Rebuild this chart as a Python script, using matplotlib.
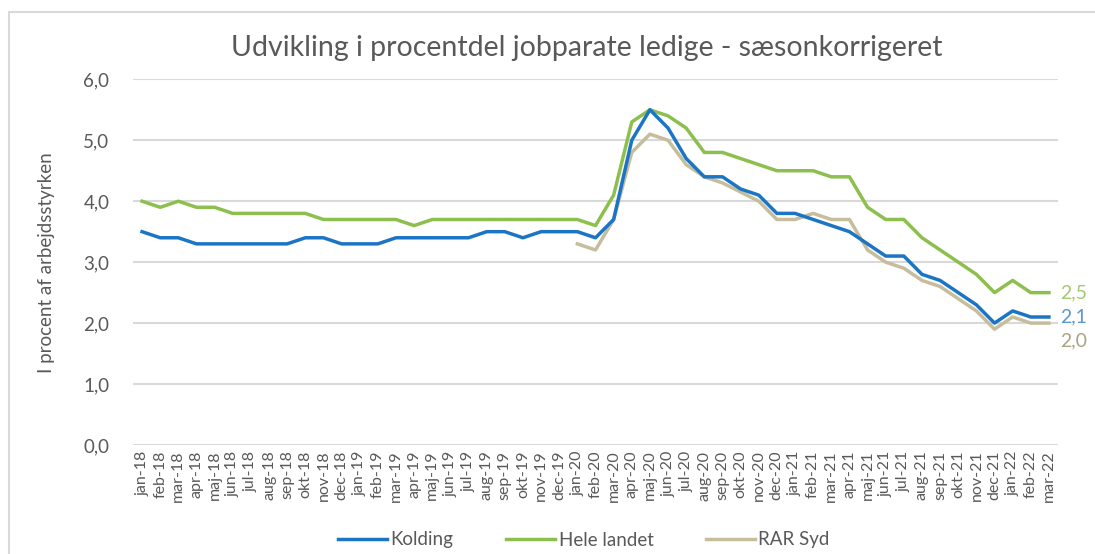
import matplotlib.pyplot as plt
from matplotlib.patches import Rectangle

plt.rcParams['font.family'] = ['Lato', 'DejaVu Sans']

months = ["jan", "feb", "mar", "apr", "maj", "jun", "jul", "aug", "sep", "okt", "nov", "dec"]
labels = [f"{m}-{y}" for y in ["18", "19", "20", "21", "22"] for m in months][:51]

kolding = [3.5, 3.4, 3.4, 3.3, 3.3, 3.3, 3.3, 3.3, 3.3, 3.4, 3.4, 3.3,
           3.3, 3.3, 3.4, 3.4, 3.4, 3.4, 3.4, 3.5, 3.5, 3.4, 3.5, 3.5,
           3.5, 3.4, 3.7, 5.0, 5.5, 5.2, 4.7, 4.4, 4.4, 4.2, 4.1, 3.8,
           3.8, 3.7, 3.6, 3.5, 3.3, 3.1, 3.1, 2.8, 2.7, 2.5, 2.3, 2.0,
           2.2, 2.1, 2.1]
hele_landet = [4.0, 3.9, 4.0, 3.9, 3.9, 3.8, 3.8, 3.8, 3.8, 3.8, 3.7, 3.7,
               3.7, 3.7, 3.7, 3.6, 3.7, 3.7, 3.7, 3.7, 3.7, 3.7, 3.7, 3.7,
               3.7, 3.6, 4.1, 5.3, 5.5, 5.4, 5.2, 4.8, 4.8, 4.7, 4.6, 4.5,
               4.5, 4.5, 4.4, 4.4, 3.9, 3.7, 3.7, 3.4, 3.2, 3.0, 2.8, 2.5,
               2.7, 2.5, 2.5]
# RAR Syd starts jan-20
rar_syd = [None] * 24 + [3.3, 3.2, 3.7, 4.8, 5.1, 5.0, 4.6, 4.4, 4.3, 4.15, 4.0, 3.7,
                         3.7, 3.8, 3.7, 3.7, 3.2, 3.0, 2.9, 2.7, 2.6, 2.4, 2.2, 1.9,
                         2.1, 2.0, 2.0]

blue = "#1b75c4"
green = "#8dbf4f"
tan = "#c6bd9c"

fig = plt.figure(figsize=(10.95, 5.54), dpi=100)
fig.patches.append(Rectangle((9 / 1095, -0.1), 1.2, (554 - 12) / 554 + 0.1,
                             transform=fig.transFigure, fill=False,
                             edgecolor="#d9d9d9", linewidth=1.5))
ax = fig.add_axes([133 / 1095, 109 / 554, 925 / 1095, 365.7 / 554])

x = list(range(len(labels)))
rx = [i for i, v in enumerate(rar_syd) if v is not None]
ry = [v for v in rar_syd if v is not None]

ax.plot(x, hele_landet, color=green, linewidth=2.5, label="Hele landet", zorder=3)
ax.plot(rx, ry, color=tan, linewidth=2.5, label="RAR Syd", zorder=3)
ax.plot(x, kolding, color=blue, linewidth=2.5, label="Kolding", zorder=4)

ax.set_xlim(-0.5, len(labels) - 0.5)
ax.set_ylim(0, 6)
ax.set_yticks([0, 1, 2, 3, 4, 5, 6])
ax.set_yticklabels([f"{v:.1f}".replace(".", ",") for v in range(7)], fontsize=13.5, color="#595959")
ax.set_xticks(x)
ax.set_xticklabels(labels, rotation=90, fontsize=11.5, color="#595959")
ax.tick_params(axis="both", length=0)
ax.tick_params(axis="y", pad=17)
ax.tick_params(axis="x", pad=4)
ax.grid(axis="y", color="#d9d9d9", linewidth=1.5)
ax.set_axisbelow(True)
for s in ["top", "right", "left", "bottom"]:
    ax.spines[s].set_visible(False)

ax.set_ylabel("I procent af arbejdsstyrken", fontsize=13.5, color="#595959", labelpad=20)
fig.text(587 / 1095, 1 - 48 / 554, "Udvikling i procentdel jobparate ledige - sæsonkorrigeret",
         ha="center", va="center", fontsize=20.5, color="#595959")

# end-of-series labels
ax.annotate("2,5", (x[-1], hele_landet[-1]), xytext=(8, 0), textcoords="offset points",
            va="center", fontsize=14, color="#a3c873", annotation_clip=False)
ax.annotate("2,1", (x[-1], kolding[-1]), xytext=(8, 0), textcoords="offset points",
            va="center", fontsize=14, color="#5b97d2", annotation_clip=False)
ax.annotate("2,0", (x[-1], rar_syd[-1]), xytext=(8, -13), textcoords="offset points",
            va="center", fontsize=14, color="#aaa483", annotation_clip=False)

handles, labs = ax.get_legend_handles_labels()
order = [2, 0, 1]
fig.legend([handles[i] for i in order], [labs[i] for i in order], loc="center",
           bbox_to_anchor=(584 / 1095, 1 - 540 / 554), ncol=3, frameon=False,
           fontsize=13.5, labelcolor="#595959", handlelength=2.6, handletextpad=0.2,
           columnspacing=2.8)

fig.savefig("out.png", dpi=100)
